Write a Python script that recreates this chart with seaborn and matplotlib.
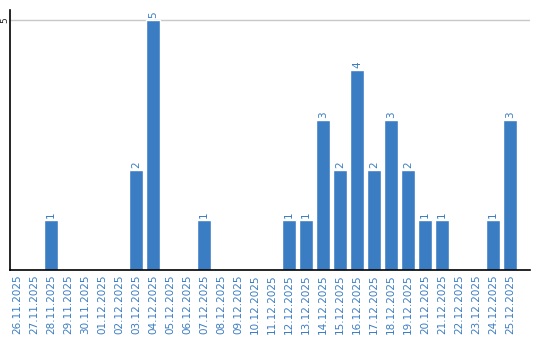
import matplotlib
matplotlib.use("Agg")
import matplotlib.pyplot as plt
import seaborn as sns
import pandas as pd

dates = ["26.11.2025", "27.11.2025", "28.11.2025", "29.11.2025", "30.11.2025",
         "01.12.2025", "02.12.2025", "03.12.2025", "04.12.2025", "05.12.2025",
         "06.12.2025", "07.12.2025", "08.12.2025", "09.12.2025", "10.12.2025",
         "11.12.2025", "12.12.2025", "13.12.2025", "14.12.2025", "15.12.2025",
         "16.12.2025", "17.12.2025", "18.12.2025", "19.12.2025", "20.12.2025",
         "21.12.2025", "22.12.2025", "23.12.2025", "24.12.2025", "25.12.2025"]
counts = [0, 0, 1, 0, 0, 0, 0, 2, 5, 0,
          0, 1, 0, 0, 0, 0, 1, 1, 3, 2,
          4, 2, 3, 2, 1, 1, 0, 0, 1, 3]
y_ticks = [5]

df = pd.DataFrame({"date": dates, "count": counts})

sns.set_style("white")
blue = "#3b7dc3"

fig = plt.figure(figsize=(5.4, 3.4), dpi=100)
ax = fig.add_axes([10 / 540, 70 / 340, 520 / 540, 260 / 340])
sns.barplot(data=df, x="date", y="count", color=blue, width=0.82,
            saturation=1, ax=ax)

ax.set_ylim(0, 5.2)
ax.set_xlim((10 - 17) / 17, (530 - 17) / 17)
ax.set_yticks(y_ticks)
ax.set_yticklabels([str(t) for t in y_ticks], rotation=90, va="center",
                   fontsize=6.5)
ax.yaxis.grid(True, color="#c8c8c8", linewidth=1)
ax.set_axisbelow(True)
ax.tick_params(axis="y", length=0, pad=0.5)
ax.tick_params(axis="x", length=0, pad=3)
ax.set_xticks(range(len(dates)))
ax.set_xticklabels(dates, rotation=90, fontsize=7.5, color=blue)
ax.set_xlabel("")
ax.set_ylabel("")

for s in ["top", "right"]:
    ax.spines[s].set_visible(False)
ax.spines["left"].set_color("black")
ax.spines["bottom"].set_color("black")
ax.spines["left"].set_linewidth(1.2)
ax.spines["bottom"].set_linewidth(1.2)

for i, v in enumerate(counts):
    if v > 0:
        ax.text(i, v + 0.05, str(v), rotation=90, ha="center", va="bottom",
                fontsize=7.5, color=blue)

fig.savefig("out.png", dpi=100)
